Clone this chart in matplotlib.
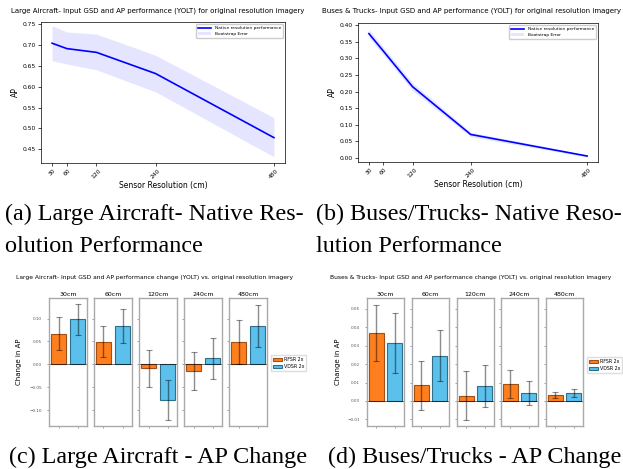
import matplotlib
matplotlib.use("Agg")
import matplotlib.pyplot as plt
import numpy as np

# ---- data ----
res = [30, 60, 120, 240, 480]

air_ap = [0.705, 0.692, 0.683, 0.632, 0.478]
air_lo = [0.663, 0.655, 0.641, 0.588, 0.432]
air_hi = [0.747, 0.732, 0.727, 0.676, 0.526]

bus_ap = [0.375, 0.322, 0.215, 0.071, 0.006]
bus_lo = [0.363, 0.311, 0.203, 0.064, 0.003]
bus_hi = [0.388, 0.334, 0.227, 0.078, 0.009]

res_labels = ["30cm", "60cm", "120cm", "240cm", "480cm"]
methods = ["RFSR 2x", "VDSR 2x"]

air_rfsr = [0.067, 0.049, -0.009, -0.015, 0.049]
air_rfsr_err = [0.036, 0.034, 0.040, 0.041, 0.048]
air_vdsr = [0.098, 0.083, -0.078, 0.013, 0.083]
air_vdsr_err = [0.034, 0.037, 0.043, 0.045, 0.046]

bus_rfsr = [0.0369, 0.0085, 0.0029, 0.0092, 0.0033]
bus_rfsr_err = [0.0154, 0.0133, 0.0135, 0.0075, 0.0017]
bus_vdsr = [0.0315, 0.0246, 0.0081, 0.0045, 0.0043]
bus_vdsr_err = [0.0165, 0.0139, 0.0113, 0.0066, 0.0022]

W, H = 623, 469
fig = plt.figure(figsize=(W/100, H/100), dpi=100)

def box(l, t, r, b):
	return [l/W, 1-b/H, (r-l)/W, (b-t)/H]

def native(rect, ap, lo, hi, title, ylim, title_x):
	ax = fig.add_axes(box(*rect))
	ax.plot(res, ap, color="blue", lw=1.2, label="Native resolution performance")
	ax.fill_between(res, lo, hi, color="blue", alpha=0.1, lw=0, label="Bootstrap Error")
	ax.set_xticks(res)
	ax.set_xticklabels([str(r) for r in res], rotation=45)
	ax.tick_params(labelsize=4.3, length=2, width=0.5, pad=1.5)
	ax.set_ylim(*ylim)
	ax.set_xlabel("Sensor Resolution (cm)", fontsize=5.5, labelpad=1)
	ax.set_ylabel("AP", fontsize=5.5, labelpad=2)
	fig.text(title_x/W, 1-11/H, title, fontsize=5.0, ha="center", va="center")
	for s in ax.spines.values():
		s.set_linewidth(0.5)
	ax.legend(loc="upper right", fontsize=3.2, framealpha=1, handlelength=3)
	return ax

native((41, 22, 285, 163), air_ap, air_lo, air_hi,
	"Large Aircraft- Input GSD and AP performance (YOLT) for original resolution imagery",
	(0.417, 0.756), 158)
native((358, 23, 598, 162), bus_ap, bus_lo, bus_hi,
	"Buses & Trucks- Input GSD and AP performance (YOLT) for original resolution imagery",
	(-0.012, 0.407), 472)

orange = "#ff7f1e"
blue = "#5bc0eb"

def change(lefts, width, rfsr, rfsr_err, vdsr, vdsr_err, ylim, yticks, title, leg_xy, title_x):
	axes = []
	for i in range(5):
		ax = fig.add_axes(box(lefts[i], 298, lefts[i]+width, 426))
		ax.bar([0], [rfsr[i]], yerr=[rfsr_err[i]], width=0.8, color=orange, edgecolor="#a04f16",
			lw=0.8, capsize=2, error_kw=dict(ecolor="black", alpha=0.45, elinewidth=1, capthick=0.8),
			label=methods[0])
		ax.bar([1], [vdsr[i]], yerr=[vdsr_err[i]], width=0.8, color=blue, edgecolor="#2f6f8a",
			lw=0.8, capsize=2, error_kw=dict(ecolor="black", alpha=0.45, elinewidth=1, capthick=0.8),
			label=methods[1])
		ax.axhline(0, color="black", lw=0.4)
		ax.set_xlim(-0.5, 1.5)
		ax.set_ylim(*ylim)
		ax.set_yticks(yticks)
		ax.set_xticks([0, 1])
		ax.set_xticklabels([])
		ax.tick_params(labelsize=3, length=1.5, width=0.4, colors="#555555")
		if i > 0:
			ax.set_yticklabels([])
		for s in ax.spines.values():
			s.set_color("#aaaaaa")
			s.set_linewidth(1)
		ax.set_title(res_labels[i], fontsize=4.5, pad=1.5)
		axes.append(ax)
	axes[0].set_ylabel("Change in AP", fontsize=5, labelpad=5)
	h, l = axes[0].get_legend_handles_labels()
	fig.legend(h, l, loc="center left", bbox_to_anchor=(leg_xy[0]/W, 1-leg_xy[1]/H),
		fontsize=3.4, handlelength=1.8, handletextpad=0.5, borderpad=0.4,
		edgecolor="#dddddd", fancybox=False, framealpha=1)
	fig.text(title_x/W, 1-278/H, title, fontsize=4.3, ha="center", va="center")

change([49, 94, 139, 184, 229], 38, air_rfsr, air_rfsr_err, air_vdsr, air_vdsr_err,
	(-0.135, 0.145), [-0.10, -0.05, 0.0, 0.05, 0.10],
	"Large Aircraft- Input GSD and AP performance change (YOLT) vs. original resolution imagery",
	(269, 363), 155)
change([367, 412, 457, 501, 546], 37, bus_rfsr, bus_rfsr_err, bus_vdsr, bus_vdsr_err,
	(-0.0136, 0.0559), [-0.01, 0.0, 0.01, 0.02, 0.03, 0.04, 0.05],
	"Buses & Trucks- Input GSD and AP performance change (YOLT) vs. original resolution imagery",
	(585, 365), 471)

# captions
cap = dict(fontsize=17.4, family="Liberation Serif", ha="left", va="center")
fig.text(5/W, 1-214/H, "(a) Large Aircraft- Native Res-", **cap)
fig.text(5/W, 1-246/H, "olution Performance", **cap)
fig.text(316/W, 1-214/H, "(b) Buses/Trucks- Native Reso-", **cap)
fig.text(316/W, 1-246/H, "lution Performance", **cap)
fig.text(9/W, 1-457/H, "(c) Large Aircraft - AP Change", **cap)
fig.text(328/W, 1-457/H, "(d) Buses/Trucks - AP Change", **cap)

fig.savefig("out.png", dpi=100)
